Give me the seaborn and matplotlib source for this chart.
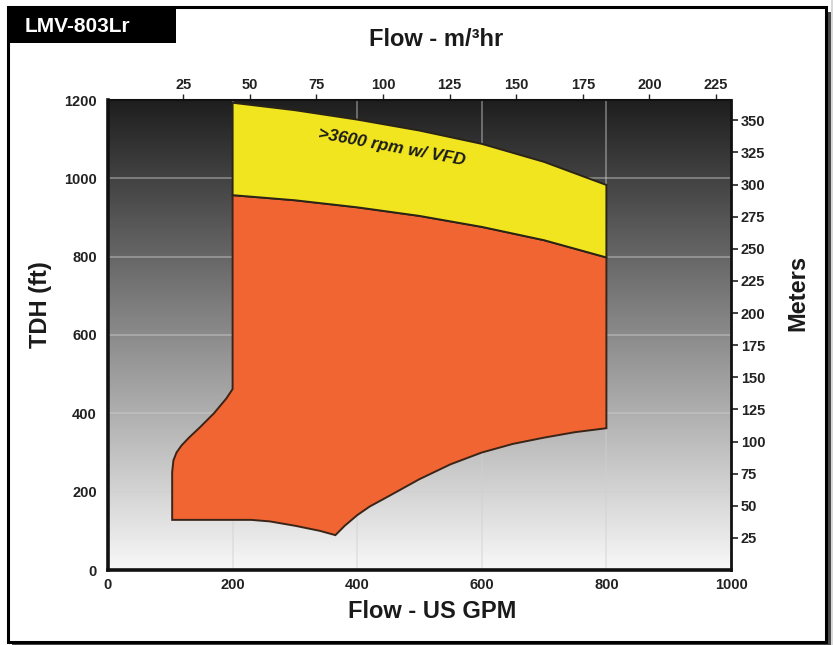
import numpy as np
import pandas as pd
import matplotlib
matplotlib.use("Agg")
import matplotlib.pyplot as plt
from matplotlib.patches import Rectangle
import seaborn as sns

# ---------------- data ----------------
# upper boundary flows shared by both regions
top_flow = [200, 300, 400, 500, 600, 700, 800]
vfd_top_tdh = [1193, 1174, 1150, 1122, 1088, 1042, 983]     # yellow upper edge
rated_top_tdh = [957, 944, 926, 904, 876, 842, 798]         # orange upper edge
# orange lower/left boundary, going from right edge back to left edge
low_flow = [800, 750, 700, 650, 600, 550, 500, 450, 420, 400, 380, 365,
            340, 300, 260, 230, 103, 103, 105, 110, 118, 130, 148, 170, 190, 200]
low_tdh = [362, 352, 338, 322, 300, 270, 232, 188, 162, 140, 113, 89,
           100, 113, 124, 128, 128, 250, 280, 300, 318, 338, 365, 400, 438, 462]

x_ticks = [0, 200, 400, 600, 800, 1000]
y_ticks = [0, 200, 400, 600, 800, 1000, 1200]
m3_ticks = [25, 50, 75, 100, 125, 150, 175, 200, 225]
m_ticks = [25, 50, 75, 100, 125, 150, 175, 200, 225, 250, 275, 300, 325, 350]

model = "LMV-803Lr"
band_label = ">3600 rpm w/ VFD"

# ---------------- style ----------------
sns.set_theme(style="white")
plt.rcParams["font.family"] = ["Liberation Sans", "DejaVu Sans"]
plt.rcParams["font.weight"] = "bold"

W, H = 833, 645
fig = plt.figure(figsize=(W / 100, H / 100), dpi=100)
fig.patch.set_facecolor("white")

def px_rect(x0, y0, x1, y1, **kw):
    """rectangle in pixel coords measured from top-left"""
    return Rectangle((x0 / W, 1 - y1 / H), (x1 - x0) / W, (y1 - y0) / H,
                     transform=fig.transFigure, **kw)

# outer frame with shadow
fig.patches.append(px_rect(831, 0, 833, 645, facecolor="#d8d8d8", edgecolor="none", zorder=-3))
fig.patches.append(px_rect(12, 12, 831, 645, facecolor="#4a4a4a", edgecolor="none", zorder=-2))
fig.patches.append(px_rect(8, 7, 826, 642, facecolor="white", edgecolor="black", linewidth=2.2, zorder=-1))

ax = fig.add_axes([108 / W, 1 - 570 / H, 623 / W, 470 / H])

# gradient background
grad = np.linspace(0.97, 0.12, 256)[:, None]
ax.imshow(grad, extent=[0, 1000, 0, 1200], aspect="auto", cmap="gray", vmin=0, vmax=1,
          origin="lower", zorder=0, interpolation="bicubic")

# grid
for gx in x_ticks[1:-1]:
    ax.axvline(gx, color="#d0d0d0", alpha=0.45, lw=1.3, zorder=1)
for gy in y_ticks[1:-1]:
    ax.axhline(gy, color="#d0d0d0", alpha=0.45, lw=1.3, zorder=1)

# regions
orange_x = top_flow + low_flow
orange_y = rated_top_tdh + low_tdh
ax.fill(orange_x, orange_y, facecolor="#f06532", edgecolor="#3a2418", linewidth=1.4, zorder=3)

yellow_x = top_flow + top_flow[::-1]
yellow_y = vfd_top_tdh + rated_top_tdh[::-1]
ax.fill(yellow_x, yellow_y, facecolor="#f0e51e", edgecolor="#2a2418", linewidth=1.4, zorder=3)

ax.text(456, 1079, band_label, rotation=-10.5, ha="center", va="center",
        fontsize=12.5, fontweight="bold", fontstyle="italic", color="#1a1a1a", zorder=4)

ax.set_xlim(0, 1000)
ax.set_ylim(0, 1200)
ax.set_xticks(x_ticks)
ax.set_yticks(y_ticks)
tick_color = "#222222"
ax.tick_params(axis="both", length=0, labelsize=10.5, colors=tick_color)
ax.tick_params(axis="x", pad=6)
ax.tick_params(axis="y", pad=8)
for lab in ax.get_xticklabels() + ax.get_yticklabels():
    lab.set_fontweight("bold")

for side, lw in [("left", 2.6), ("bottom", 2.6), ("right", 2.0), ("top", 1.5)]:
    ax.spines[side].set_visible(True)
    ax.spines[side].set_color("#111111")
    ax.spines[side].set_linewidth(lw)
    ax.spines[side].set_zorder(5)

# secondary axes
def gpm_to_m3(g):
    return (np.asarray(g, dtype=float) - 13.7) / 4.277

def m3_to_gpm(m):
    return np.asarray(m, dtype=float) * 4.277 + 13.7

def ft_to_m(f):
    return np.asarray(f, dtype=float) / 3.2808

def m_to_ft(m):
    return np.asarray(m, dtype=float) * 3.2808

top = ax.secondary_xaxis("top", functions=(gpm_to_m3, m3_to_gpm))
top.set_xticks(m3_ticks)
top.tick_params(length=4, width=1, direction="out", pad=2, labelsize=10.5, colors=tick_color)
top.spines["top"].set_visible(False)
for lab in top.get_xticklabels():
    lab.set_fontweight("bold")

right = ax.secondary_yaxis("right", functions=(ft_to_m, m_to_ft))
right.set_yticks(m_ticks)
right.tick_params(length=5, width=1.2, direction="out", pad=2, labelsize=10.5, colors=tick_color)
right.spines["right"].set_visible(False)
for lab in right.get_yticklabels():
    lab.set_fontweight("bold")

# titles
fig.text(436 / W, 1 - 40 / H, "Flow - m/³hr", ha="center", va="center", fontsize=17,
         fontweight="bold", color="#1a1a1a")
fig.text(432 / W, 1 - 612 / H, "Flow - US GPM", ha="center", va="center", fontsize=17,
         fontweight="bold", color="#1a1a1a")
fig.text(40 / W, 1 - 305 / H, "TDH (ft)", ha="center", va="center", rotation=90, fontsize=17,
         fontweight="bold", color="#1a1a1a")
fig.text(798 / W, 1 - 293 / H, "Meters", ha="center", va="center", rotation=90, fontsize=17,
         fontweight="bold", color="#1a1a1a")

# model label box
fig.patches.append(px_rect(7, 9, 176, 43, facecolor="black", edgecolor="none", zorder=2))
fig.text(25 / W, 1 - 27 / H, model, ha="left", va="center", fontsize=15, fontweight="bold",
         color="white", zorder=3)

fig.savefig("out.png", dpi=100)
